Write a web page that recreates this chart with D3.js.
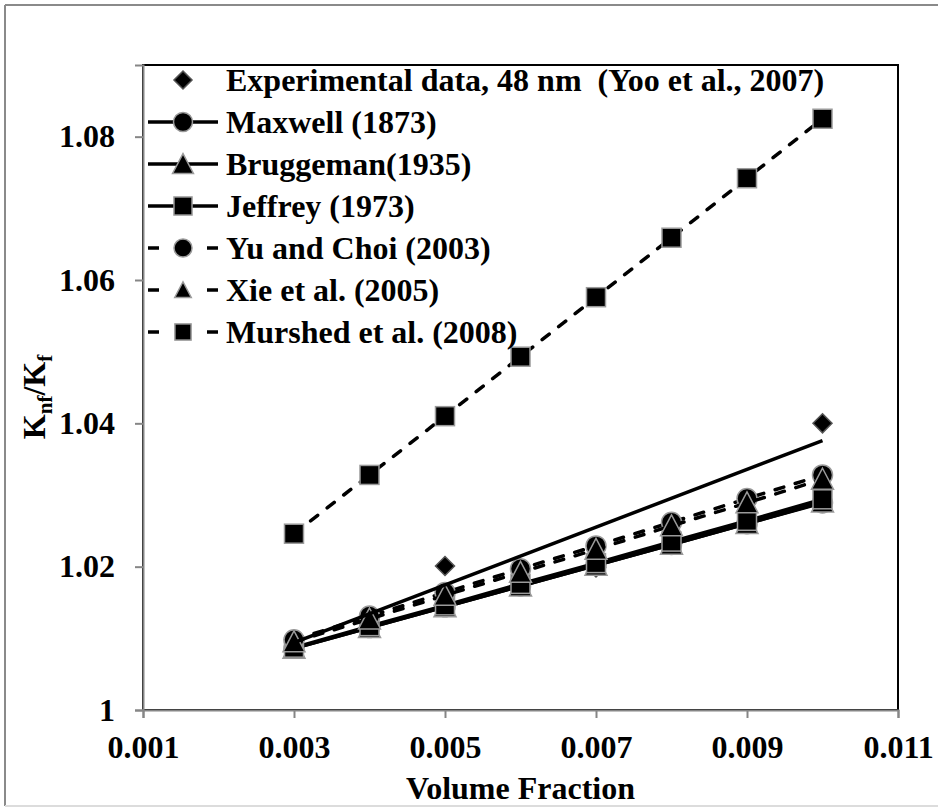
<!DOCTYPE html>
<html>
<head>
<meta charset="utf-8">
<script src="https://cdn.jsdelivr.net/npm/d3@7"></script>
<style>body { margin: 0; }</style>
</head>
<body>
<svg width="938" height="810"></svg>
<script>
// volume fractions used by all the model curves
const volumeFraction = [0.003, 0.004, 0.005, 0.006, 0.007, 0.008, 0.009, 0.010];

// measured points (Yoo et al., 2007)
const experimentalX = [0.003, 0.005, 0.007, 0.010];
const experimentalY = [1.0098, 1.0201, 1.0199, 1.0400];

// model predictions, Knf/Kf
const maxwell   = [1.0086, 1.0115, 1.0144, 1.0173, 1.0202, 1.0231, 1.0260, 1.0289];
const bruggeman = [1.0086, 1.0115, 1.0144, 1.0173, 1.0202, 1.0231, 1.0260, 1.0290];
const jeffrey   = [1.0087, 1.0117, 1.0146, 1.0176, 1.0205, 1.0235, 1.0264, 1.0294];
const yuChoi    = [1.0098, 1.0131, 1.0164, 1.0197, 1.0229, 1.0262, 1.0295, 1.0328];
const xie       = [1.0095, 1.0127, 1.0160, 1.0192, 1.0224, 1.0257, 1.0289, 1.0322];
const murshed   = [1.0246, 1.0328, 1.0410, 1.0493, 1.0576, 1.0659, 1.0742, 1.0825];

// linear trendline through the experimental points (end points)
const trendX = [0.003, 0.010];
const trendY = [1.0094, 1.0376];

const xTicks = [0.001, 0.003, 0.005, 0.007, 0.009, 0.011];
const yTicks = [1, 1.02, 1.04, 1.06, 1.08];

const seriesNames = [
    "Experimental data, 48 nm  (Yoo et al., 2007)",
    "Maxwell (1873)",
    "Bruggeman(1935)",
    "Jeffrey (1973)",
    "Yu and Choi (2003)",
    "Xie et al. (2005)",
    "Murshed et al. (2008)"
];

const margin = { top: 65, right: 40, bottom: 100, left: 143 };
const width = 898 - margin.left;
const height = 710 - margin.top;

// same font on every text node
function serif(sel, size) {
    return sel.style("font-family", "Liberation Serif")
        .style("font-weight", "bold")
        .style("font-size", size || "32px");
}

const root = d3.select("svg");

// outer chart frame
root.append("line").attr("x1", 5).attr("y1", 5).attr("x2", 938).attr("y2", 5)
    .attr("stroke", "#8a8a8a").attr("stroke-width", 2);
root.append("line").attr("x1", 5).attr("y1", 5).attr("x2", 5).attr("y2", 806)
    .attr("stroke", "#8a8a8a").attr("stroke-width", 2);
root.append("line").attr("x1", 5).attr("y1", 806).attr("x2", 938).attr("y2", 806)
    .attr("stroke", "#dcdcdc").attr("stroke-width", 2);

const svg = root.append("g")
    .attr("transform", `translate(${margin.left}, ${margin.top})`);

const x = d3.scaleLinear().domain([0.001, 0.011]).range([0, width]);
const y = d3.scaleLinear().domain([1, 1.09]).range([height, 0]);

// plot area border (top / right black)
svg.append("rect")
    .attr("width", width).attr("height", height)
    .attr("fill", "none").attr("stroke", "#000").attr("stroke-width", 2);

const xAxis = svg.append("g")
    .attr("transform", `translate(0,${height})`)
    .call(d3.axisBottom(x).tickValues(xTicks).tickSize(8).tickPadding(17).tickFormat(d3.format(".3f")));

const yAxis = svg.append("g")
    .call(d3.axisLeft(y).tickValues(yTicks).tickSize(8).tickPadding(20).tickFormat(d => d === 1 ? "1" : d3.format(".2f")(d)));

[xAxis, yAxis].forEach(a => {
    a.select(".domain").attr("stroke", "#868686").attr("stroke-width", 2);
    a.selectAll(".tick line").attr("stroke", "#868686").attr("stroke-width", 2);
    serif(a.selectAll("text")).attr("fill", "#000");
});

// axis titles
serif(svg.append("text"))
    .attr("x", width / 2).attr("y", height + 89)
    .attr("text-anchor", "middle")
    .text("Volume Fraction");

const yTitle = serif(svg.append("text"))
    .attr("transform", `translate(${45 - margin.left}, ${397 - margin.top}) rotate(-90)`)
    .attr("text-anchor", "middle");
yTitle.append("tspan").text("K");
yTitle.append("tspan").attr("dy", 7).style("font-size", "21px").text("nf");
yTitle.append("tspan").attr("dy", -7).text("/K");
yTitle.append("tspan").attr("dy", 7).style("font-size", "21px").text("f");

// marker shapes
const markerStroke = "#9a9a9a";
function drawMarker(g, type, cx, cy, size) {
    const s = size || 1;
    if (type === "circle") {
        g.append("circle").attr("cx", cx).attr("cy", cy).attr("r", 10 * s)
            .attr("fill", "#000").attr("stroke", markerStroke).attr("stroke-width", 1.5);
    } else if (type === "square") {
        g.append("rect").attr("x", cx - 9.5 * s).attr("y", cy - 9.5 * s)
            .attr("width", 19 * s).attr("height", 19 * s)
            .attr("fill", "#000").attr("stroke", markerStroke).attr("stroke-width", 1.5);
    } else if (type === "triangle") {
        const h = 11 * s;
        g.append("path")
            .attr("d", `M${cx},${cy - h} L${cx + h},${cy + h * 0.9} L${cx - h},${cy + h * 0.9} Z`)
            .attr("fill", "#000").attr("stroke", markerStroke).attr("stroke-width", 1.5);
    } else if (type === "diamond") {
        const h = 9.5 * s;
        g.append("path")
            .attr("d", `M${cx},${cy - h} L${cx + h},${cy} L${cx},${cy + h} L${cx - h},${cy} Z`)
            .attr("fill", "#000").attr("stroke", "#555").attr("stroke-width", 1.5);
    }
}

const line = d3.line().x(d => x(d[0])).y(d => y(d[1]));

const models = [
    { values: maxwell, marker: "circle", dashed: false },
    { values: bruggeman, marker: "triangle", dashed: false },
    { values: jeffrey, marker: "square", dashed: false },
    { values: yuChoi, marker: "circle", dashed: true },
    { values: xie, marker: "triangle", dashed: true },
    { values: murshed, marker: "square", dashed: true }
];

// experimental points first
const expGroup = svg.append("g");
experimentalX.forEach((v, i) => drawMarker(expGroup, "diamond", x(v), y(experimentalY[i])));

models.forEach(m => {
    const pts = volumeFraction.map((v, i) => [v, m.values[i]]);
    const g = svg.append("g");
    g.append("path")
        .datum(pts)
        .attr("fill", "none")
        .attr("stroke", "#000")
        .attr("stroke-width", 3.5)
        .attr("stroke-linecap", m.dashed ? "round" : "butt")
        .attr("stroke-dasharray", m.dashed ? "9 12" : null)
        .attr("d", line);
    pts.forEach(p => drawMarker(g, m.marker, x(p[0]), y(p[1])));
});

// trendline of the experimental data
svg.append("path")
    .datum(trendX.map((v, i) => [v, trendY[i]]))
    .attr("fill", "none")
    .attr("stroke", "#000")
    .attr("stroke-width", 3.5)
    .attr("d", line);

// legend
const legend = root.append("g").attr("transform", "translate(148, 80)");
const legendRow = 42;
const legendKinds = [
    { marker: "diamond", line: null },
    { marker: "circle", line: "solid" },
    { marker: "triangle", line: "solid" },
    { marker: "square", line: "solid" },
    { marker: "circle", line: "dash", size: 0.9 },
    { marker: "triangle", line: "dash", size: 0.75 },
    { marker: "square", line: "dash", size: 0.85 }
];

seriesNames.forEach((name, i) => {
    const k = legendKinds[i];
    const row = legend.append("g").attr("transform", `translate(0, ${i * legendRow})`);
    if (k.line) {
        row.append("line")
            .attr("x1", 0).attr("x2", 70).attr("y1", 0).attr("y2", 0)
            .attr("stroke", "#000").attr("stroke-width", 3.5)
            .attr("stroke-dasharray", k.line === "dash" ? "11 48" : null);
    }
    drawMarker(row, k.marker, 35, 0, k.size || 0.95);
    serif(row.append("text"))
        .attr("x", 78).attr("y", 0).attr("dy", "0.35em")
        .style("white-space", "pre")
        .text(name);
});
</script>
</body>
</html>
